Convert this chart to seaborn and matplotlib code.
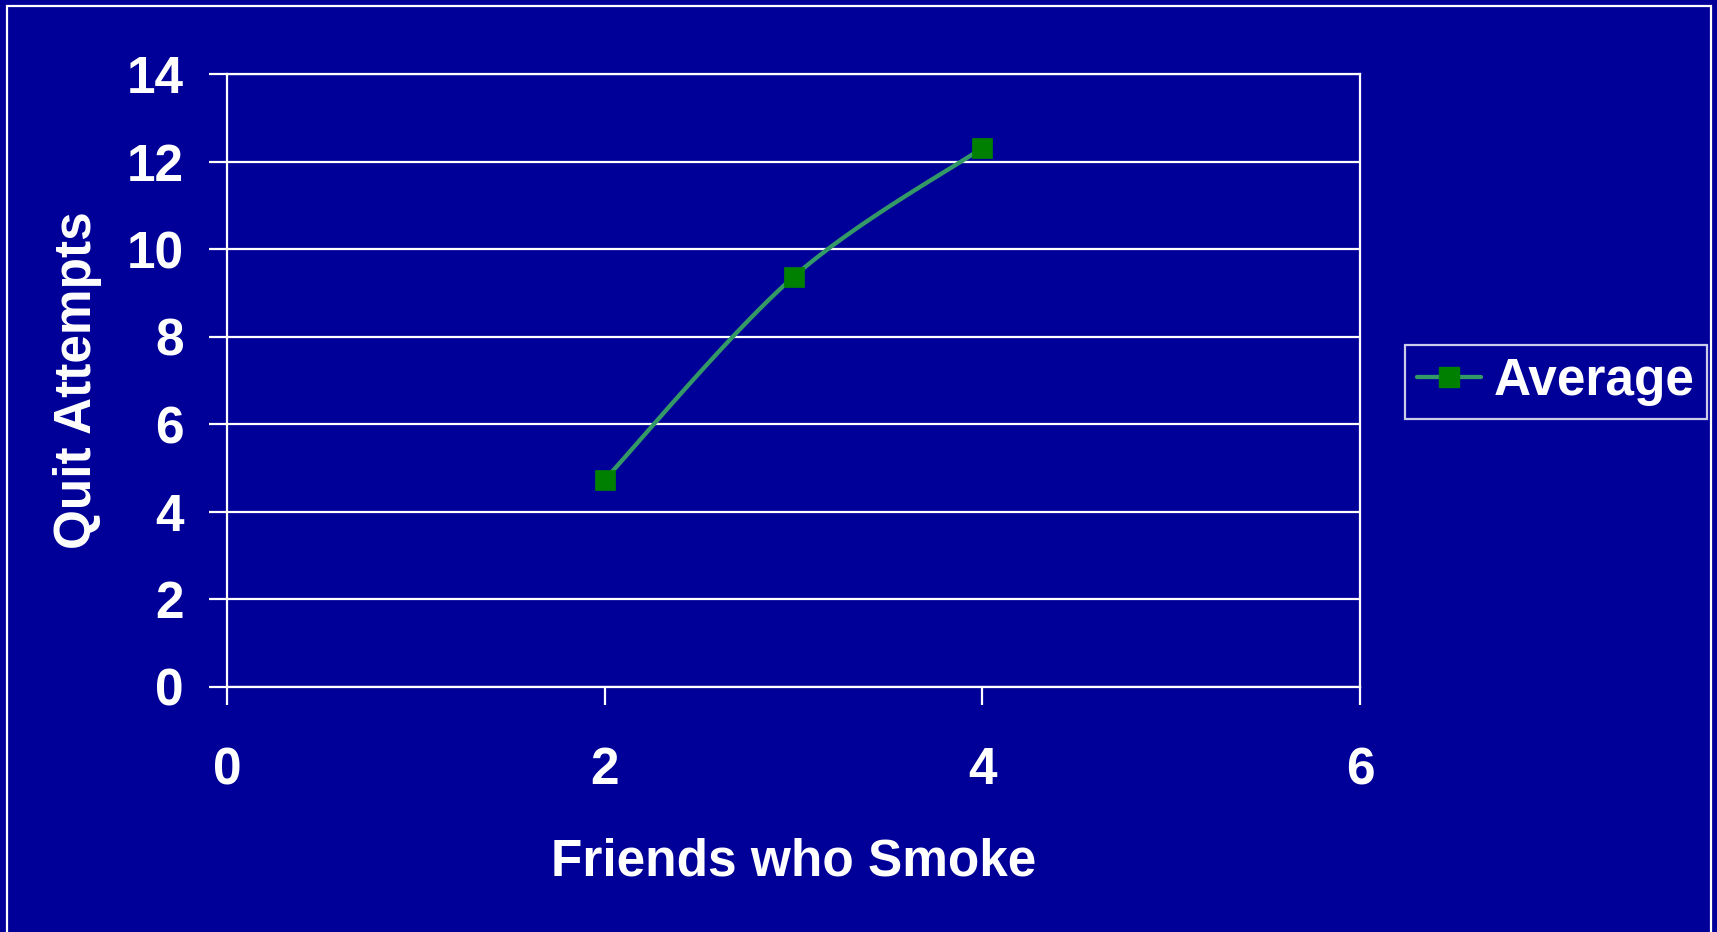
import numpy as np
import pandas as pd
import matplotlib
matplotlib.use("Agg")
import matplotlib.pyplot as plt
import seaborn as sns
from matplotlib.lines import Line2D
from matplotlib.patches import Rectangle

friends = [2, 3, 4]
quit_attempts = [4.73, 9.37, 12.32]
series_name = "Average"
x_ticks = [0, 2, 4, 6]
y_ticks = [0, 2, 4, 6, 8, 10, 12, 14]

BG = "#000099"
LINE = "#339966"
MARK = "#008000"
FS = 37

sns.set_theme(style="white")
plt.rcParams["font.family"] = ["Liberation Sans", "DejaVu Sans"]
plt.rcParams["font.weight"] = "bold"


def excel_smooth(xs, ys, n=60):
    P = np.column_stack([xs, ys]).astype(float)
    out = []
    for i in range(len(P) - 1):
        p0 = P[i - 1] if i > 0 else P[i]
        p1, p2 = P[i], P[i + 1]
        p3 = P[i + 2] if i + 2 < len(P) else P[i + 1]
        c1 = p1 + (p2 - p0) / 6.0
        c2 = p2 - (p3 - p1) / 6.0
        t = np.linspace(0, 1, n)[:, None]
        seg = ((1 - t) ** 3) * p1 + 3 * ((1 - t) ** 2) * t * c1 + 3 * (1 - t) * t ** 2 * c2 + t ** 3 * p2
        out.append(seg if i == 0 else seg[1:])
    return np.vstack(out)


fig = plt.figure(figsize=(17.17, 9.32), dpi=100)
fig.patch.set_facecolor(BG)
ax = fig.add_axes([0.1322, 0.2634, 0.6599, 0.6567])
ax.set_facecolor(BG)

curve = excel_smooth(friends, quit_attempts)
cdf = pd.DataFrame({"x": curve[:, 0], "y": curve[:, 1]})
sns.lineplot(data=cdf, x="x", y="y", ax=ax, color=LINE, linewidth=3.1,
             sort=False, estimator=None, zorder=3)
pdf = pd.DataFrame({"x": friends, "y": quit_attempts})
sns.scatterplot(data=pdf, x="x", y="y", ax=ax, marker="s", s=15 ** 2,
                color=MARK, edgecolor=MARK, linewidth=0.5, zorder=4)

ax.set_xlim(0, 6)
ax.set_ylim(0, 14)
ax.set_xticks(x_ticks)
ax.set_yticks(y_ticks)
ax.set_xticklabels([str(v) for v in x_ticks])
ax.set_yticklabels([str(v) for v in y_ticks])
ax.yaxis.grid(True, color="white", linewidth=1.6)
ax.xaxis.grid(False)
for sp in ax.spines.values():
    sp.set_visible(True)
    sp.set_color("white")
    sp.set_linewidth(1.6)
ax.tick_params(axis="both", colors="white", labelcolor="white", labelsize=FS,
               length=13, width=1.6, direction="out")
ax.tick_params(axis="x", pad=30, bottom=True)
ax.tick_params(axis="y", pad=18, left=True)
for lab in ax.get_xticklabels() + ax.get_yticklabels():
    lab.set_fontweight("bold")

ax.set_xlabel("Friends who Smoke", color="white", fontsize=FS, fontweight="bold")
ax.set_ylabel("Quit Attempts", color="white", fontsize=FS, fontweight="bold")
ax.xaxis.set_label_coords(0.5, -0.287)
ax.xaxis.label.set_va("center")
ax.yaxis.set_label_coords(-0.132, 0.5)
ax.yaxis.label.set_va("center")
ax.yaxis.label.set_ha("center")

handle = Line2D([0], [0], color=LINE, linewidth=3.1, marker="s", markersize=14,
                markerfacecolor=MARK, markeredgecolor=MARK)
leg = fig.legend([handle], [series_name], loc="upper left",
                 bbox_to_anchor=(0.818, 0.630), borderaxespad=0,
                 fontsize=FS, frameon=True, fancybox=False,
                 handlelength=1.24, handletextpad=0.26, borderpad=0.24)
leg.get_frame().set_facecolor(BG)
leg.get_frame().set_edgecolor("white")
leg.get_frame().set_linewidth(1.6)
for t in leg.get_texts():
    t.set_color("white")
    t.set_fontweight("bold")

fig.patches.append(Rectangle((7 / 1717, -0.1), 1704 / 1717, 1.1 - 6 / 932,
                             transform=fig.transFigure, fill=False,
                             edgecolor="white", linewidth=1.6, zorder=0))

fig.savefig("out.png", dpi=100, facecolor=BG)
